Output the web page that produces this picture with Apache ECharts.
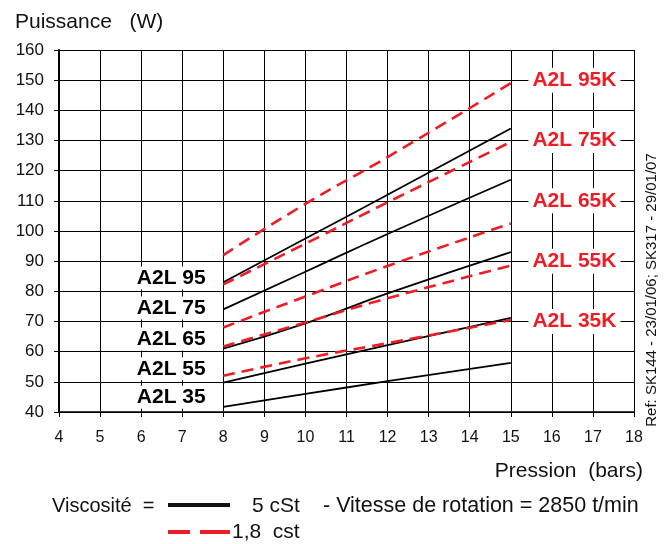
<!DOCTYPE html>
<html>
<head>
<meta charset="utf-8">
<script src="https://cdn.jsdelivr.net/npm/echarts@6/dist/echarts.min.js"></script>
<style>
	html,body{margin:0;padding:0;background:#fff;}
	#chart{width:668px;height:544px;}
</style>
</head>
<body>
<div id="chart"></div>
<script>
	// pression (bars) where the curves were read
	var pression = [8, 10, 12, 15];

	// viscosite 5 cSt (trait plein)
	var noirNoms = ['A2L 95', 'A2L 75', 'A2L 65', 'A2L 55', 'A2L 35'];
	var noir95 = [83, 97.5, 112, 134];
	var noir75 = [74, 86.5, 99, 117];
	var noir65 = [61, 69.4, 79.3, 93];
	var noir55 = [49.7, 56, 62.2, 71.2];
	var noir35 = [41.7, 46, 50.2, 56.3];

	// viscosite 1,8 cst (pointilles rouges)
	var rougeNoms = ['A2L 95K', 'A2L 75K', 'A2L 65K', 'A2L 55K', 'A2L 35K'];
	var rouge95 = [92, 109, 124.5, 149];
	var rouge75 = [82.3, 95.8, 109.5, 129.5];
	var rouge65 = [68, 78.3, 88.4, 102.5];
	var rouge55 = [61.7, 69.7, 77.7, 88.5];
	var rouge35 = [52, 57.8, 62.8, 70.5];

	// where the curve names sit (data coords)
	var noirEtiqY = [84.4, 74.5, 64.2, 54.3, 44.9];
	var rougeEtiqY = [150, 130, 110, 90, 70];

	var xTicks = [4, 18, 1];
	var yTicks = [40, 160, 10];

	var police = "'Liberation Sans', Arial, sans-serif";
	var rouge = '#ee1c25';

	function pts(vals){
		var out = [];
		for (var i = 0; i < pression.length; i++) {
			out.push([pression[i], vals[i]]);
		}
		return out;
	}

	var noirs = [noir95, noir75, noir65, noir55, noir35];
	var rouges = [rouge95, rouge75, rouge65, rouge55, rouge35];
	var series = [];

	for (var i = 0; i < noirs.length; i++) {
		series.push({
			name: noirNoms[i],
			type: 'line',
			data: pts(noirs[i]),
			showSymbol: false,
			smooth: true,
			lineStyle: {color: '#000', width: 1.8},
			z: 3,
			markPoint: {
				symbol: 'rect',
				symbolSize: 0,
				data: [{coord: [7.62, noirEtiqY[i]]}],
				label: {
					show: true,
					formatter: noirNoms[i],
					position: 'left',
					distance: 0,
					color: '#000',
					fontSize: 21,
					fontWeight: 'bold',
					fontFamily: police,
					backgroundColor: '#fff',
					padding: [1, 2]
				}
			}
		});
	}
	for (var j = 0; j < rouges.length; j++) {
		series.push({
			name: rougeNoms[j],
			type: 'line',
			data: pts(rouges[j]),
			showSymbol: false,
			smooth: true,
			lineStyle: {color: rouge, width: 2.6, type: [12, 7]},
			z: 4,
			markPoint: {
				symbol: 'rect',
				symbolSize: 0,
				data: [{coord: [16.55, rougeEtiqY[j]]}],
				label: {
					show: true,
					formatter: rougeNoms[j],
					position: 'inside',
					color: rouge,
					fontSize: 21,
					fontWeight: 'bold',
					fontFamily: police,
					backgroundColor: '#fff',
					padding: [2, 4]
				}
			}
		});
	}

	var option = {
		animation: false,
		backgroundColor: '#fff',
		grid: {left: 59, right: 34, top: 50, bottom: 132},
		xAxis: {
			type: 'value',
			min: xTicks[0], max: xTicks[1], interval: xTicks[2],
			axisLine: {lineStyle: {color: '#000', width: 1.5}},
			axisTick: {length: 5, lineStyle: {color: '#000'}},
			splitLine: {lineStyle: {color: '#000', width: 1}},
			axisLabel: {color: '#111', fontSize: 16, fontFamily: police, margin: 18}
		},
		yAxis: {
			type: 'value',
			min: yTicks[0], max: yTicks[1], interval: yTicks[2],
			axisLine: {show: true, lineStyle: {color: '#000', width: 2}},
			axisTick: {show: true, length: 5, lineStyle: {color: '#000'}},
			splitLine: {lineStyle: {color: '#000', width: 1}},
			axisLabel: {color: '#111', fontSize: 17, fontFamily: police, margin: 15}
		},
		graphic: [
			{type: 'text', x: 15, y: 22, style: {text: 'Puissance   (W)', font: '21px ' + police, fill: '#111', verticalAlign: 'middle'}},
			{type: 'text', x: 643, y: 471, style: {text: 'Pression  (bars)', font: '21px ' + police, fill: '#111', align: 'right', verticalAlign: 'middle'}},
			{type: 'text', x: 652, y: 290, rotation: Math.PI / 2, style: {text: 'Ref: SK144 - 23/01/06; SK317 - 29/01/07', font: '15px ' + police, fill: '#111', align: 'center', verticalAlign: 'middle'}},
			{type: 'text', x: 52, y: 506, style: {text: 'Viscosité  =', font: '20px ' + police, fill: '#111', verticalAlign: 'middle'}},
			{type: 'line', shape: {x1: 168, y1: 505, x2: 230, y2: 505}, style: {stroke: '#111', lineWidth: 4}},
			{type: 'text', x: 252, y: 506, style: {text: '5 cSt', font: '21px ' + police, fill: '#111', verticalAlign: 'middle'}},
			{type: 'text', x: 323, y: 506, style: {text: '- Vitesse de rotation = 2850 t/min', font: '21.5px ' + police, fill: '#111', verticalAlign: 'middle'}},
			{type: 'line', shape: {x1: 168, y1: 532, x2: 190, y2: 532}, style: {stroke: rouge, lineWidth: 4}},
			{type: 'line', shape: {x1: 200, y1: 532, x2: 230, y2: 532}, style: {stroke: rouge, lineWidth: 4}},
			{type: 'text', x: 232, y: 532, style: {text: '1,8  cst', font: '21px ' + police, fill: '#111', verticalAlign: 'middle'}}
		],
		series: series
	};

	var chart = echarts.init(document.getElementById('chart'));
	chart.setOption(option);
</script>
</body>
</html>
